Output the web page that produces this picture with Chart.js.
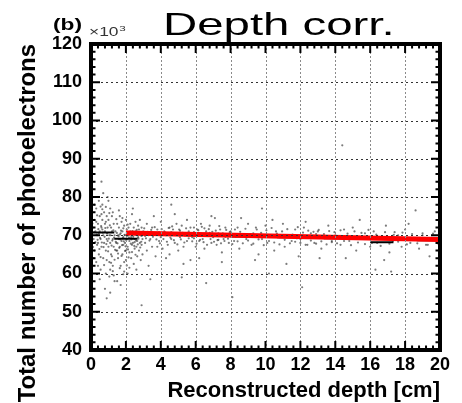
<!DOCTYPE html>
<html>
<head>
<meta charset="utf-8">
<script src="https://cdn.jsdelivr.net/npm/chart.js@4.4.1/dist/chart.umd.min.js"></script>
<style>
  html, body { margin: 0; padding: 0; background: #fff; }
</style>
</head>
<body>
<canvas id="chartCanvas" width="462" height="403"></canvas>
<script>
// scattered events: [reconstructed depth (cm), photoelectrons (x10^3)]
const hitsFront = [
  [0.1,72],[0.15,69],[0.2,74],[0.2,66],[0.25,71],[0.3,77],[0.3,63],[0.35,70],[0.4,73],[0.4,68],
  [0.45,79],[0.45,65],[0.5,71],[0.5,75],[0.55,61],[0.55,69],[0.6,72],[0.6,67],[0.65,78],[0.65,74],
  [0.7,70],[0.7,64],[0.75,76],[0.75,68],[0.8,73],[0.8,71],[0.85,60],[0.85,66],[0.9,75],[0.9,69],
  [0.95,80],[0.95,72],[1.0,67],[1.0,74],[1.05,63],[1.05,70],[1.1,77],[1.1,68],[1.15,72],[1.15,65],
  [1.2,75],[1.2,71],[1.25,62],[1.25,69],[1.3,73],[1.3,67],[1.35,58],[1.35,70],[0.3,73.5],[0.6,75.5],
  [0.9,63.5],[1.1,61],[0.4,62],[0.2,78],[0.7,81],[1.0,79],[0.5,58.5],[0.8,56],[1.2,64.5],[0.35,67.5],
  [0.65,71.5],[0.95,68.5],[1.25,76],[0.15,64],[0.55,77.5],[0.85,73.5],[1.3,59.5],[0.45,70.5]
];
const hitsShallow = [
  [1.4,71],[1.45,68],[1.5,73],[1.5,66],[1.55,70],[1.55,64],[1.6,72],[1.6,69],[1.65,75],[1.65,67],
  [1.7,70.5],[1.7,62],[1.75,68.5],[1.75,73.5],[1.8,71],[1.8,65],[1.85,69.5],[1.85,67.5],[1.9,72.5],[1.9,63],
  [1.95,70],[1.95,68],[2.0,74],[2.0,66],[2.05,71.5],[2.05,69],[2.1,67],[2.1,60],[2.15,72],[2.15,70],
  [2.2,65.5],[2.2,68.5],[2.25,73],[2.25,71],[2.3,69.5],[2.3,64],[2.35,67.5],[2.35,75.5],[2.4,70.5],[2.4,68],
  [2.45,62.5],[2.45,72],[2.5,69],[2.5,66.5],[2.55,71],[2.55,73.5],[2.6,67],[2.6,70],[2.65,64.5],[2.65,68.5],
  [2.7,72.5],[2.7,69.5],[2.75,66],[2.75,71.5],[2.8,74],[2.8,68],[2.85,70],[2.85,63.5],[2.9,72],[2.9,67.5],
  [2.95,69],[2.95,65],[1.5,58],[1.7,57],[1.9,60.5],[2.2,61.5],[2.4,77],[1.6,76.5],[2.0,63.5],[2.6,61],
  [1.8,74.5],[2.1,72.8],[2.3,70.8],[2.5,68.2],[2.7,70.2],[2.9,69.8],[1.45,66],[1.65,70.2],[1.85,71.8]
];
const hitsCluster = [
  [0.32,70.2],[0.38,68.8],[0.42,71.6],[0.48,66.4],[0.52,69.3],[0.58,72.4],[0.62,68.1],[0.68,70.7],[0.72,66.9],[0.78,69.6],
  [0.82,71.9],[0.88,67.7],[0.92,70.4],[0.98,65.8],[1.02,69.1],[1.08,72.6],[1.12,70.0],[1.18,67.3],[1.22,68.6],[1.28,71.3],
  [1.32,69.4],[1.38,66.2],[1.42,68.3],[1.48,70.6],[1.52,67.9],[1.58,69.7],[1.62,66.7],[1.68,68.9],[1.72,71.2],[1.78,67.4],
  [1.82,69.2],[1.88,68.4],[1.92,70.1],[1.98,67.1],[2.02,68.7],[2.08,69.9],[2.12,66.3],[2.18,69.4],[2.22,70.6],[2.28,67.8],
  [2.32,68.9],[2.38,71.1],[2.42,69.6],[2.48,67.2],[2.52,70.3],[2.58,68.6],[2.62,71.4],[2.68,67.6],[2.72,69.1],[2.78,70.7],
  [2.82,66.8],[2.88,68.3],[1.55,65.2],[1.75,64.6],[1.95,65.9],[2.15,64.2],[2.35,65.6],[2.55,64.9],[1.35,63.6],[1.15,62.8],
  [0.75,62.2],[0.55,64.3],[1.05,59.2],[1.25,60.6],[1.65,61.4],[1.85,59.8],[2.05,62.1],[0.65,76.8],[0.35,75.2],[0.85,77.4],
  [1.45,74.2],[1.05,75.8],[0.25,68.2],[0.18,70.8],[0.12,66.9],[0.08,73.1]
];
const hitsMiddle = [
  [3.0,71],[3.1,68],[3.2,73],[3.2,66],[3.3,70],[3.4,69],[3.5,72],[3.5,67],[3.6,70.5],[3.7,64.5],
  [3.8,71.5],[3.9,68.5],[4.0,73.5],[4.0,69.5],[4.1,66.5],[4.2,71],[4.3,70],[4.4,67.5],[4.5,72],[4.5,65],
  [4.6,69],[4.7,71.5],[4.8,68],[4.9,73],[5.0,70],[5.0,66],[5.1,69.5],[5.2,72.5],[5.3,67],[5.4,70.5],
  [5.5,74],[5.5,68.5],[5.6,71],[5.7,63.5],[5.8,69.5],[5.9,72],[6.0,70],[6.0,67],[6.1,71.5],[6.2,68.5],
  [6.3,73],[6.4,69],[6.5,66.5],[6.6,71],[6.7,70],[6.8,72.5],[6.9,68],[7.0,69.5],[7.1,74.5],[7.2,67.5],
  [7.3,70.5],[7.4,71.5],[7.5,65.5],[7.6,69],[7.7,72],[7.8,70],[7.9,68],[3.3,62],[3.6,75],[4.3,64],
  [4.8,75.5],[5.3,62.5],[6.2,64],[6.9,75],[7.5,63],[3.8,67],[4.6,70.8],[5.7,70.2],[6.5,71.8],[7.3,68.8],
  [3.1,69.8],[3.9,70.8],[4.4,70.3],[5.1,71.2],[5.9,69.2],[6.8,70.6],[7.7,69.6]
];
const hitsDeep = [
  [8.0,71],[8.2,68.5],[8.4,72],[8.5,66.5],[8.7,70],[8.9,69],[9.0,73],[9.2,67.5],[9.3,70.5],[9.5,71.5],
  [9.6,65],[9.8,69],[10.0,72.5],[10.1,68],[10.3,70],[10.5,66],[10.6,71],[10.8,69.5],[11.0,73],[11.1,67],
  [11.3,70],[11.5,68.5],[11.7,71.5],[11.9,64.5],[12.0,69],[12.2,72],[12.4,67.5],[12.6,70.5],[12.8,68],[13.0,71],
  [13.2,66.5],[13.4,69.5],[13.6,72.5],[13.8,68.5],[8.6,74.5],[9.4,63.5],[10.4,74],[11.2,62.5],[12.3,73.5],[13.1,64],
  [9.1,70.2],[10.7,69.8],[12.9,70.3],[8.3,69.7],[11.8,69.2],
  [14.0,70],[14.3,67.5],[14.5,71.5],[14.8,68.5],[15.0,72],[15.2,66],[15.5,69.5],[15.7,70.5],[16.0,67],[16.2,71],
  [16.4,68],[16.6,69.5],[16.9,72.5],[17.1,65.5],[17.3,68.5],[17.6,70],[17.8,67],[18.0,71.5],[18.3,68],[18.5,69],
  [18.8,66.5],[19.0,70.5],[19.2,67.5],[19.5,69],[19.7,71],[19.9,68],[14.6,64],[15.4,74],[16.8,63.5],[18.2,73],
  [19.4,64.5],[15.9,69.2],[17.4,70.8]
];
const hitsBand = [
  [3.05,71.8],[3.15,69.2],[3.25,70.9],[3.35,68.6],[3.45,71.4],[3.55,69.6],[3.65,72.1],[3.75,68.9],[3.85,70.2],[3.95,67.9],
  [4.05,71.6],[4.15,69.0],[4.25,70.7],[4.35,68.3],[4.45,71.9],[4.55,69.4],[4.65,72.3],[4.75,68.7],[4.85,70.1],[4.95,67.6],
  [5.05,71.5],[5.15,68.9],[5.25,70.6],[5.35,68.1],[5.45,71.8],[5.6,69.2],[5.7,72.0],[5.8,68.4],[5.9,70.8],[6.05,67.8],
  [6.15,71.3],[6.25,68.8],[6.35,72.2],[6.45,68.2],[6.55,70.4],[6.65,67.5],[6.75,71.6],[6.85,69.0],[6.95,70.9],[7.05,68.3],
  [7.15,71.2],[7.25,68.7],[7.35,72.4],[7.45,67.9],[7.55,70.5],[7.65,68.5],[7.75,71.4],[7.85,69.1],[7.95,70.8],[8.1,67.7],
  [8.25,71.5],[8.4,68.4],[8.55,70.9],[8.7,67.9],[8.85,71.7],[9.0,68.6],[9.15,70.3],[9.3,67.8],[9.45,72.0],[9.6,68.9],
  [9.75,70.6],[9.9,67.4],[10.05,71.3],[10.2,68.5],[10.35,71.9],[10.5,68.1],[10.65,70.4],[10.8,67.6],[10.95,71.0],[11.1,68.8],
  [11.25,71.6],[11.4,67.9],[11.55,70.2],[11.7,68.3],[11.85,72.1],[12.0,68.0],[12.15,70.7],[12.3,67.5],[12.45,71.2],[12.6,68.6],
  [12.75,70.9],[12.9,67.8],[13.05,71.4],[13.2,68.4],[13.35,70.3],[13.5,67.6],[13.65,71.1],[13.8,68.2],[13.95,70.8],[14.1,67.9],
  [14.3,71.3],[14.5,68.5],[14.7,70.4],[14.9,67.4],[15.1,71.0],[15.3,68.1],[15.5,70.6],[15.7,67.7],[15.9,71.4],[16.1,68.0],
  [16.35,70.2],[16.6,67.2],[16.85,70.8],[17.1,67.8],[17.35,70.1],[17.6,68.3],[17.85,70.7],[18.1,67.6],[18.4,70.3],[18.7,67.9],
  [19.0,70.0],[19.3,67.5],[19.6,70.4],[19.9,67.8]
];
const hitsOutliers = [
  [2.9,51.7],[8.1,53.8],[12.1,56.4],[14.4,93.5],[1.1,55],[0.6,84],[3.4,58.5],[5.2,59],
  [6.6,57.5],[10.2,60],[16.3,61],[18.6,76.5],[4.6,78],[9.8,77],[0.9,53.5],[17.2,60.5]
];

// profile (mean per depth bin)
const binEdges = [0, 1.333, 2.667, 4, 5.333, 6.667, 8, 9.333, 10.667, 12, 13.333, 14.667, 16, 17.333, 18.667, 20];
const binMeans = [70.7, 69.1, 70.3, 70.1, 70.0, 69.9, 69.7, 69.6, 69.5, 69.3, 69.2, 69.1, 68.2, 68.8, 68.7];

// linear fit
const fitDepth = [2, 20];
const fitValue = [70.6, 68.9];

// axis divisions
const depthTicks = [0, 2, 4, 6, 8, 10, 12, 14, 16, 18, 20];
const peTicks = [40, 50, 60, 70, 80, 90, 100, 110, 120];

const FONT = '"Liberation Sans", Arial, sans-serif';

const scatterPts = [...hitsFront, ...hitsShallow, ...hitsCluster, ...hitsMiddle, ...hitsDeep, ...hitsBand, ...hitsOutliers]
  .map(p => ({x: p[0], y: p[1]}));

const profilePts = [];
binMeans.forEach((m, i) => {
  profilePts.push({x: binEdges[i], y: m});
  profilePts.push({x: binEdges[i + 1], y: m});
  profilePts.push({x: binEdges[i + 1], y: null});
});

const fitPts = fitDepth.map((d, i) => ({x: d, y: fitValue[i]}));

function minorValues(vals) {
  const out = [];
  for (let i = 0; i < vals.length - 1; i++) {
    const step = (vals[i + 1] - vals[i]) / 5;
    for (let k = 1; k < 5; k++) out.push(vals[i] + k * step);
  }
  return out;
}

const rootFrame = {
  id: 'rootFrame',
  afterDraw(chart) {
    const ctx = chart.ctx;
    const a = chart.chartArea;
    const x = chart.scales.x;
    const y = chart.scales.y;
    ctx.save();

    // dotted grid
    ctx.lineWidth = 1;
    ctx.setLineDash([2, 2]);
    ctx.strokeStyle = '#8a8a8a';
    depthTicks.slice(1, -1).forEach(v => {
      const px = Math.round(x.getPixelForValue(v)) + 0.5;
      ctx.beginPath(); ctx.moveTo(px, a.top); ctx.lineTo(px, a.bottom); ctx.stroke();
    });
    ctx.strokeStyle = '#333';
    ctx.setLineDash([2, 3]);
    peTicks.slice(1, -1).forEach(v => {
      const py = Math.round(y.getPixelForValue(v)) + 0.5;
      ctx.beginPath(); ctx.moveTo(a.left, py); ctx.lineTo(a.right, py); ctx.stroke();
    });
    ctx.setLineDash([]);

    // tick marks on all four sides
    ctx.strokeStyle = '#000';
    ctx.lineWidth = 2;
    const tick = (vals, len, axis) => {
      vals.forEach(v => {
        ctx.beginPath();
        if (axis === 'x') {
          const px = x.getPixelForValue(v);
          ctx.moveTo(px, a.bottom); ctx.lineTo(px, a.bottom - len);
          ctx.moveTo(px, a.top); ctx.lineTo(px, a.top + len);
        } else {
          const py = y.getPixelForValue(v);
          ctx.moveTo(a.left, py); ctx.lineTo(a.left + len, py);
          ctx.moveTo(a.right, py); ctx.lineTo(a.right - len, py);
        }
        ctx.stroke();
      });
    };
    tick(depthTicks, 9, 'x');
    tick(minorValues(depthTicks), 4.5, 'x');
    tick(peTicks, 9, 'y');
    tick(minorValues(peTicks), 4.5, 'y');
    ctx.lineWidth = 4;
    ctx.strokeRect(a.left, a.top, a.right - a.left, a.bottom - a.top);

    ctx.fillStyle = '#000';
    ctx.textBaseline = 'alphabetic';

    // main title (stretched like the source image)
    ctx.save();
    ctx.translate(163, 35);
    ctx.scale(1.48, 1);
    ctx.font = '32px ' + FONT;
    ctx.fillText('Depth corr.', 0, 0);
    ctx.restore();

    // panel label
    ctx.save();
    ctx.translate(53, 30);
    ctx.scale(1.42, 1);
    ctx.font = 'bold 16px ' + FONT;
    ctx.fillText('(b)', 0, 0);
    ctx.restore();

    // exponent
    ctx.save();
    ctx.translate(89, 36);
    ctx.scale(1.45, 1);
    ctx.fillStyle = '#333';
    ctx.font = '12px ' + FONT;
    ctx.fillText('\u00d710', 0, 0);
    const w = ctx.measureText('\u00d710').width;
    ctx.font = '8px ' + FONT;
    ctx.fillText('3', w + 0.5, -5);
    ctx.restore();

    // axis titles
    ctx.font = 'bold 22px ' + FONT;
    ctx.textAlign = 'right';
    ctx.fillText('Reconstructed depth [cm]', a.right, 397);

    ctx.save();
    ctx.translate(29, a.top);
    ctx.rotate(-Math.PI / 2);
    ctx.scale(1.04, 1);
    ctx.font = 'bold 23px ' + FONT;
    ctx.textAlign = 'right';
    ctx.textBaseline = 'middle';
    ctx.fillText('Total number of photoelectrons', 0, 0);
    ctx.restore();

    ctx.restore();
  }
};

const chartContainer = document.getElementById('chartCanvas');

const myChart = new Chart(chartContainer, {
  type: 'scatter',
  data: {
    datasets: [
      {
        type: 'line',
        data: fitPts,
        borderColor: '#ff0000',
        borderWidth: 5,
        pointRadius: 0,
        fill: false,
      },
      {
        type: 'line',
        data: profilePts,
        borderColor: '#000',
        borderWidth: 2,
        pointRadius: 0,
        spanGaps: false,
        fill: false,
      },
      {
        data: scatterPts,
        backgroundColor: 'rgba(35,35,35,0.6)',
        pointRadius: 1.1,
        pointBorderWidth: 0,
      },
    ],
  },
  options: {
    responsive: false,
    animation: false,
    devicePixelRatio: 1,
    layout: { padding: { top: 44, right: 22, left: 0, bottom: 0 } },
    plugins: {
      legend: { display: false },
      tooltip: { enabled: false },
    },
    scales: {
      x: {
        type: 'linear',
        min: 0,
        max: 20,
        grid: { display: false, drawTicks: false },
        border: { display: false },
        ticks: {
          stepSize: 2,
          padding: 4,
          color: '#000',
          maxRotation: 0,
          font: { family: FONT, size: 18, weight: 'bold' },
        },
        afterFit(scale) { scale.height = 53; },
      },
      y: {
        type: 'linear',
        min: 40,
        max: 120,
        grid: { display: false, drawTicks: false },
        border: { display: false },
        ticks: {
          stepSize: 10,
          padding: 9,
          color: '#000',
          font: { family: FONT, size: 18, weight: 'bold' },
        },
        afterFit(scale) { scale.width = 91; },
      },
    },
  },
  plugins: [rootFrame],
});
</script>
</body>
</html>
